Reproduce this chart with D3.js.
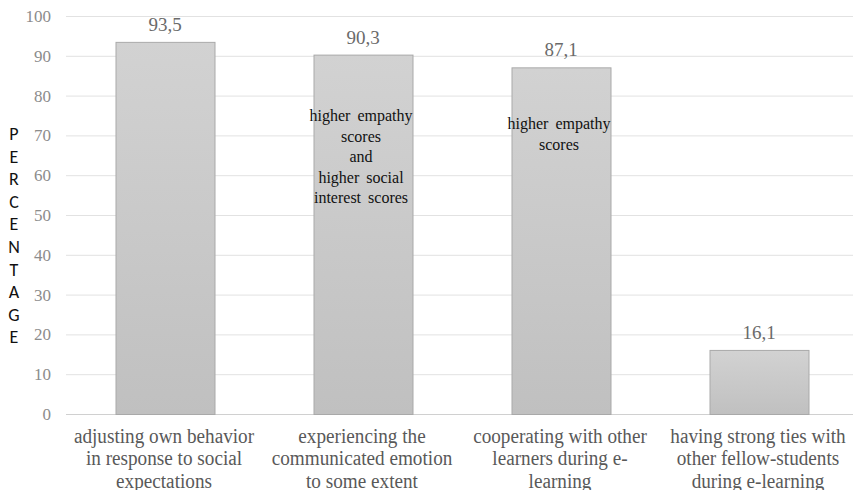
<!DOCTYPE html>
<html>
<head>
<meta charset="utf-8">
<script src="https://cdn.jsdelivr.net/npm/d3@7/dist/d3.min.js"></script>
<style>
  html, body { margin: 0; padding: 0; background: #fff; }
  svg { display: block; }
</style>
</head>
<body>
<svg id="chart" width="853" height="490"></svg>
<script>
// Share of learners reporting each social behaviour
const categories = [
  ["adjusting own behavior", "in response to social", "expectations"],
  ["experiencing the", "communicated emotion", "to some extent"],
  ["cooperating with other", "learners during e-", "learning"],
  ["having strong ties with", "other fellow-students", "during e-learning"]
];
const values = [93.5, 90.3, 87.1, 16.1];
const valueLabels = ["93,5", "90,3", "87,1", "16,1"];
const yTicks = [0, 10, 20, 30, 40, 50, 60, 70, 80, 90, 100];
const notes = [
  [],
  ["higher empathy", "scores", "and", "higher social", "interest scores"],
  ["higher empathy", "scores"],
  []
];
const axisTitle = "PERCENTAGE";

const SERIF = '"Liberation Serif"';
const SANS = '"Carlito"';

const svg = d3.select("#chart");
const W = 853, H = 490;
const plot = { left: 66, right: 858, top: 16, bottom: 414 };

const x = d3.scaleBand()
  .domain(d3.range(values.length))
  .range([plot.left, plot.right])
  .paddingInner(0.5)
  .paddingOuter(0.25);

const y = d3.scaleLinear().domain([0, 100]).range([plot.bottom, plot.top]);

// bar fill: light at top, slightly darker at the base
const defs = svg.append("defs");
const grad = defs.append("linearGradient")
  .attr("id", "barFill").attr("x1", 0).attr("y1", 0).attr("x2", 0).attr("y2", 1);
grad.append("stop").attr("offset", "0%").attr("stop-color", "#d2d2d2");
grad.append("stop").attr("offset", "100%").attr("stop-color", "#c0c0c0");

// horizontal gridlines
svg.append("g")
  .selectAll("line")
  .data(yTicks)
  .join("line")
  .attr("x1", plot.left).attr("x2", W)
  .attr("y1", d => y(d) + 0.5).attr("y2", d => y(d) + 0.5)
  .attr("stroke", d => d === 0 ? "#d0d0d0" : "#e2e2e2")
  .attr("stroke-width", 1);

// y-axis tick labels
const yAxis = d3.axisLeft(y).tickValues(yTicks).tickSize(0).tickPadding(0);
const gy = svg.append("g")
  .attr("transform", `translate(${plot.left - 15},0)`)
  .call(yAxis);
gy.select(".domain").remove();
gy.selectAll("text")
  .style("font-family", SERIF)
  .style("font-size", "17px")
  .attr("fill", "#8c8c8c");

// bars
svg.append("g")
  .selectAll("rect")
  .data(values)
  .join("rect")
  .attr("x", (d, i) => x(i) + 0.5)
  .attr("y", d => y(d) + 0.5)
  .attr("width", x.bandwidth())
  .attr("height", d => y(0) - y(d))
  .attr("fill", "url(#barFill)")
  .attr("stroke", "#a9a9a9")
  .attr("stroke-width", 1);

// value labels
svg.append("g")
  .selectAll("text")
  .data(values)
  .join("text")
  .attr("x", (d, i) => x(i) + x.bandwidth() / 2)
  .attr("y", d => y(d) - 11)
  .attr("text-anchor", "middle")
  .style("font-family", SERIF)
  .style("font-size", "19px")
  .attr("fill", "#6a6a6a")
  .text((d, i) => valueLabels[i]);

// annotations inside bars
const noteTop = [0, 121, 129, 0];
notes.forEach((lines, i) => {
  if (!lines.length) return;
  const t = svg.append("text")
    .attr("text-anchor", "middle")
    .style("font-family", SERIF)
    .style("font-size", "16px")
    .style("word-spacing", "3px")
    .attr("fill", "#111");
  lines.forEach((ln, k) => {
    t.append("tspan")
      .attr("x", x(i) + x.bandwidth() / 2 - 2)
      .attr("y", noteTop[i] + k * 20.5)
      .text(ln);
  });
});

// category labels
categories.forEach((lines, i) => {
  const t = svg.append("text")
    .attr("text-anchor", "middle")
    .style("font-family", SERIF)
    .style("font-size", "20px")
    .attr("fill", "#595959")
    .attr("transform", `translate(${x(i) + x.bandwidth() / 2 - 1},0) scale(0.96,1)`);
  lines.forEach((ln, k) => {
    t.append("tspan")
      .attr("x", 0)
      .attr("y", 443 + k * 22.5)
      .text(ln);
  });
});

// vertical axis title, one letter per row
svg.append("g")
  .selectAll("text")
  .data(axisTitle.split(""))
  .join("text")
  .attr("x", 14)
  .attr("y", (d, i) => 140 + i * 22.6)
  .attr("text-anchor", "middle")
  .style("font-family", SANS)
  .style("font-size", "18px")
  .attr("fill", "#111")
  .text(d => d);
</script>
</body>
</html>
